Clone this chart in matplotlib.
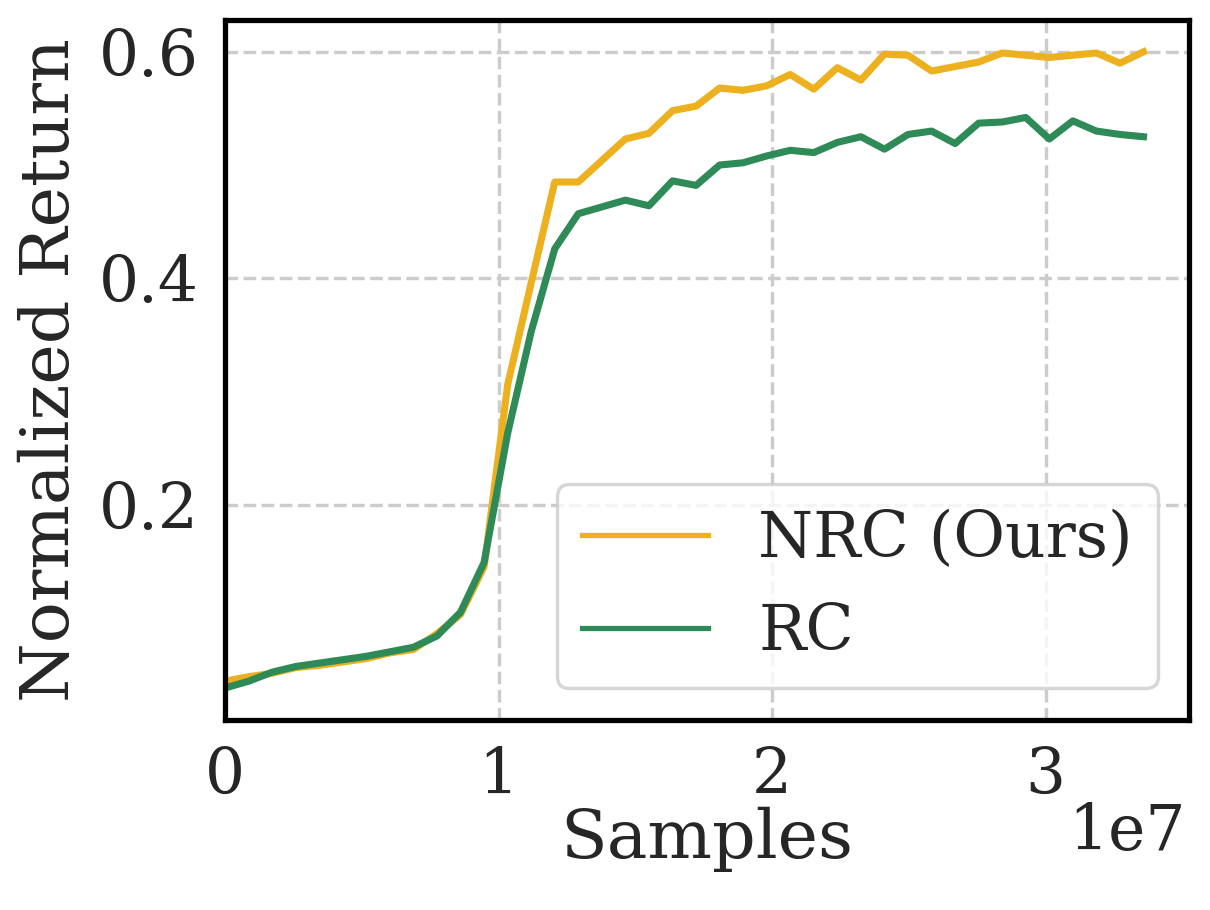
import numpy as np
import matplotlib
matplotlib.use("Agg")
import matplotlib.pyplot as plt

# evaluation points (40 evals, ~861k samples apart)
steps = np.arange(40)
samples = steps * 861000

nrc = [0.044, 0.048, 0.051, 0.056, 0.058, 0.061, 0.064, 0.069, 0.072, 0.086,
       0.103, 0.145, 0.306, 0.396, 0.485, 0.485, 0.504, 0.523, 0.528, 0.548,
       0.552, 0.568, 0.566, 0.570, 0.580, 0.567, 0.586, 0.575, 0.598, 0.597,
       0.583, 0.587, 0.591, 0.599, 0.597, 0.595, 0.597, 0.599, 0.590, 0.600]

rc = [0.038, 0.044, 0.052, 0.057, 0.060, 0.063, 0.066, 0.070, 0.074, 0.084,
      0.105, 0.149, 0.263, 0.353, 0.426, 0.457, 0.463, 0.469, 0.464, 0.486,
      0.482, 0.500, 0.502, 0.508, 0.513, 0.511, 0.520, 0.525, 0.514, 0.527,
      0.530, 0.519, 0.537, 0.538, 0.542, 0.523, 0.539, 0.530, 0.527, 0.525]

ORANGE = "#EDB120"
GREEN = "#2E8B57"
TEXT = "#262626"

plt.rcParams["font.family"] = ["DejaVu Serif"]
plt.rcParams["font.size"] = 24
plt.rcParams["text.color"] = TEXT
plt.rcParams["axes.labelcolor"] = TEXT
plt.rcParams["xtick.color"] = TEXT
plt.rcParams["ytick.color"] = TEXT

fig, ax = plt.subplots(figsize=(1210 / 189, 910 / 189), dpi=189)
fig.subplots_adjust(left=0.186, right=0.983, top=0.978, bottom=0.209)

ax.plot(samples, nrc, color=ORANGE, lw=2.7, label="NRC (Ours)")
ax.plot(samples, rc, color=GREEN, lw=2.7, label="RC")

ax.set_xlim(left=0)
ax.set_yticks([0.2, 0.4, 0.6])
ax.set_xticks([0, 1e7, 2e7, 3e7])
ax.grid(True, linestyle="--", color="#cccccc", lw=1.3)
ax.set_axisbelow(True)
for s in ax.spines.values():
    s.set_color("black")
    s.set_linewidth(2.0)
ax.tick_params(length=0, labelsize=24, pad=10)

ax.set_xlabel("Samples", fontsize=26, labelpad=0)
ax.set_ylabel("Normalized Return", fontsize=26, labelpad=6)

# scale factor shown like the usual offset text, a bit higher
ax.xaxis.get_offset_text().set_visible(False)
ax.text(0.996, -0.118, "1e7", transform=ax.transAxes, ha="right", va="top",
        fontsize=24)

leg = ax.legend(loc="lower right", fontsize=24, frameon=True, fancybox=True,
                framealpha=0.8, edgecolor="#cccccc")
leg.get_frame().set_linewidth(1.3)
for h in leg.get_lines():
    h.set_linewidth(2.0)

fig.savefig("out.png", dpi=189)
